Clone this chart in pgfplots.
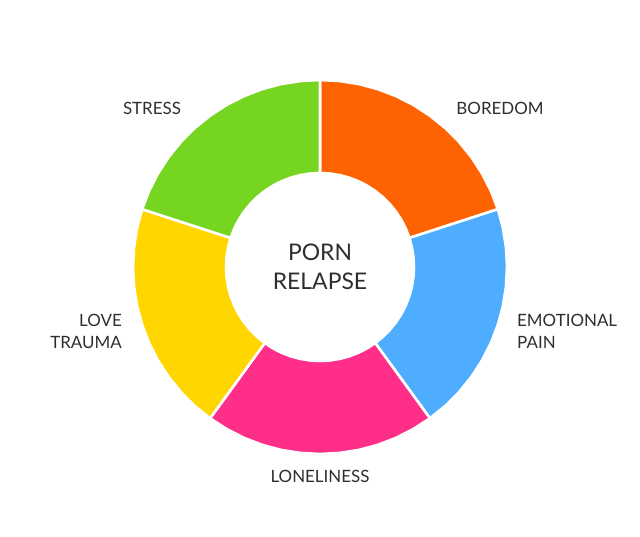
\documentclass[border=0pt]{standalone}
\usepackage{pgfplots}
\pgfplotsset{compat=1.18}
\usepackage{fontspec}
\setmainfont{Lato}
\definecolor{cOrange}{HTML}{FF6200}
\definecolor{cBlue}{HTML}{4EADFF}
\definecolor{cPink}{HTML}{FF2E88}
\definecolor{cYellow}{HTML}{FFD600}
\definecolor{cGreen}{HTML}{76D520}
\definecolor{txt}{HTML}{2E2E2E}
\begin{document}
\begin{tikzpicture}
\begin{axis}[
  hide axis, scale only axis, width=640bp, height=536bp,
  xmin=-320, xmax=320, ymin=-269, ymax=267,
  clip=false,
  every axis plot/.append style={draw=white, line width=2.6bp, line join=miter},
]
\path (rel axis cs:0,0) rectangle (rel axis cs:1,1);
% five equal shares (20% each): boredom, emotional pain, loneliness, love trauma, stress
\addplot[fill=cOrange, data cs=polar] coordinates {
(90,187) (84,187) (78,187) (72,187) (66,187) (60,187) (54,187) (48,187) (42,187) (36,187) (30,187) (24,187) (18,187)
(18,94) (24,94) (30,94) (36,94) (42,94) (48,94) (54,94) (60,94) (66,94) (72,94) (78,94) (84,94) (90,94)} -- cycle;
\addplot[fill=cBlue, data cs=polar] coordinates {
(18,187) (12,187) (6,187) (0,187) (-6,187) (-12,187) (-18,187) (-24,187) (-30,187) (-36,187) (-42,187) (-48,187) (-54,187)
(-54,94) (-48,94) (-42,94) (-36,94) (-30,94) (-24,94) (-18,94) (-12,94) (-6,94) (0,94) (6,94) (12,94) (18,94)} -- cycle;
\addplot[fill=cPink, data cs=polar] coordinates {
(-54,187) (-60,187) (-66,187) (-72,187) (-78,187) (-84,187) (-90,187) (-96,187) (-102,187) (-108,187) (-114,187) (-120,187) (-126,187)
(-126,94) (-120,94) (-114,94) (-108,94) (-102,94) (-96,94) (-90,94) (-84,94) (-78,94) (-72,94) (-66,94) (-60,94) (-54,94)} -- cycle;
\addplot[fill=cYellow, data cs=polar] coordinates {
(-126,187) (-132,187) (-138,187) (-144,187) (-150,187) (-156,187) (-162,187) (-168,187) (-174,187) (-180,187) (-186,187) (-192,187) (-198,187)
(-198,94) (-192,94) (-186,94) (-180,94) (-174,94) (-168,94) (-162,94) (-156,94) (-150,94) (-144,94) (-138,94) (-132,94) (-126,94)} -- cycle;
\addplot[fill=cGreen, data cs=polar] coordinates {
(-198,187) (-204,187) (-210,187) (-216,187) (-222,187) (-228,187) (-234,187) (-240,187) (-246,187) (-252,187) (-258,187) (-264,187) (-270,187)
(-270,94) (-264,94) (-258,94) (-252,94) (-246,94) (-240,94) (-234,94) (-228,94) (-222,94) (-216,94) (-210,94) (-204,94) (-198,94)} -- cycle;

\begin{scope}[every node/.style={text=txt, font=\fontsize{17}{22}\selectfont, inner sep=0pt}]
\node at (axis cs:-168,159) {STRESS};
\node at (axis cs:180,159) {BOREDOM};
\node[anchor=east, align=right] at (axis cs:-198,-64) {LOVE\\TRAUMA};
\node[anchor=west, align=left] at (axis cs:197,-64) {EMOTIONAL\\PAIN};
\node at (axis cs:0,-209) {LONELINESS};
\node[align=center, font=\fontsize{23}{29}\selectfont] at (axis cs:0,0) {PORN\\RELAPSE};
\end{scope}
\end{axis}
\end{tikzpicture}
\end{document}
